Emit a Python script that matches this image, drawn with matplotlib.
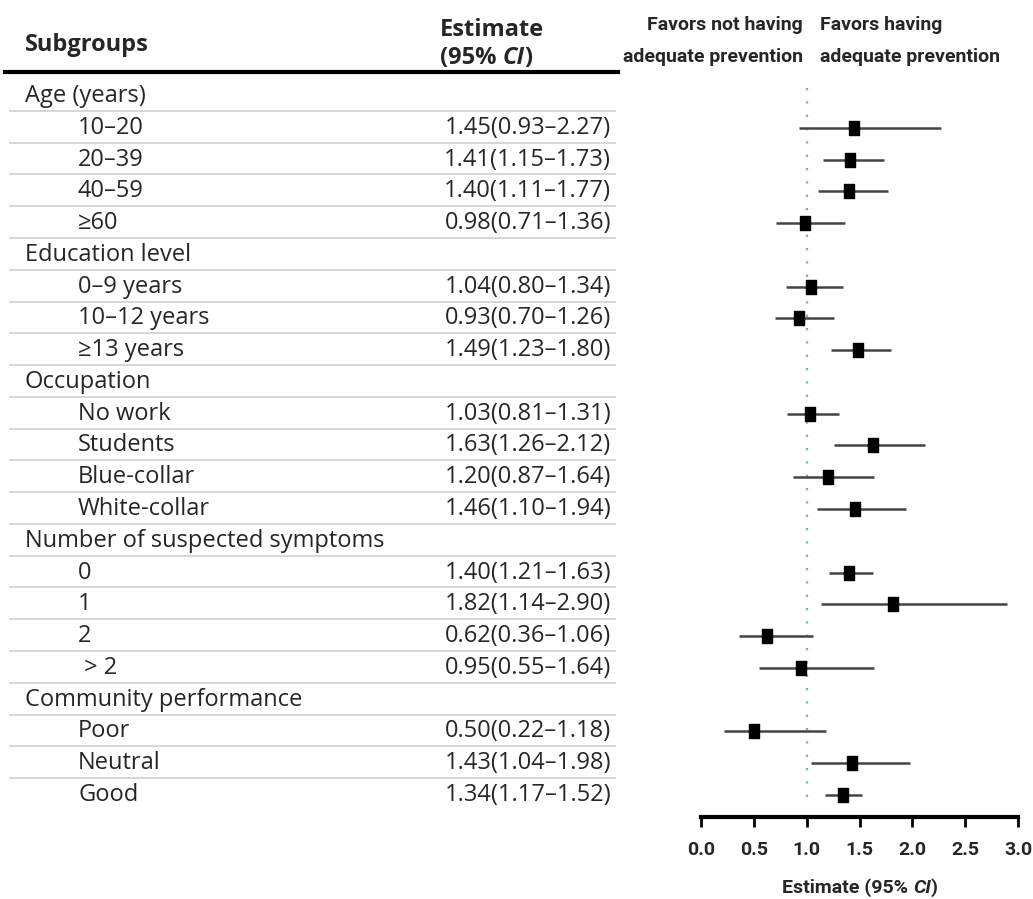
import matplotlib
matplotlib.use("Agg")
import matplotlib.pyplot as plt
from matplotlib.path import Path

# ---------------- data ----------------
group_names = ["Age (years)", "Education level", "Occupation",
               "Number of suspected symptoms", "Community performance"]
subgroup_labels = [
    ["10\u201320", "20\u201339", "40\u201359", "\u226560"],
    ["0\u20139 years", "10\u201312 years", "\u226513 years"],
    ["No work", "Students", "Blue-collar", "White-collar"],
    ["0", "1", "2", " > 2"],
    ["Poor", "Neutral", "Good"],
]
estimates = [1.45, 1.41, 1.40, 0.98,
             1.04, 0.93, 1.49,
             1.03, 1.63, 1.20, 1.46,
             1.40, 1.82, 0.62, 0.95,
             0.50, 1.43, 1.34]
ci_low = [0.93, 1.15, 1.11, 0.71,
          0.80, 0.70, 1.23,
          0.81, 1.26, 0.87, 1.10,
          1.21, 1.14, 0.36, 0.55,
          0.22, 1.04, 1.17]
ci_high = [2.27, 1.73, 1.77, 1.36,
           1.34, 1.26, 1.80,
           1.31, 2.12, 1.64, 1.94,
           1.63, 2.90, 1.06, 1.64,
           1.18, 1.98, 1.52]
x_ticks = [0.0, 0.5, 1.0, 1.5, 2.0, 2.5, 3.0]

# ---------------- layout ----------------
W, H = 1033, 899
fig = plt.figure(figsize=(W / 100, H / 100), dpi=100)

row0_px = 96.0
row_h = 31.77
axis_px = 817.0
top_px = row0_px - 0.5 * row_h
y_bottom = (axis_px - row0_px) / row_h
y_top = -0.5

def px2row(p):
    return (p - row0_px) / row_h

ax_bottom = 1 - axis_px / H
ax_height = (axis_px - top_px) / H

ax_t = fig.add_axes([0, ax_bottom, 1, ax_height])
ax_t.set_xlim(0, W)
ax_t.set_ylim(y_bottom, y_top)
ax_t.axis("off")

ax = fig.add_axes([701 / W, ax_bottom, (1018 - 701) / W, ax_height])
ax.set_xlim(0, 3)
ax.set_ylim(y_bottom, y_top)

txt_font = "Open Sans"
cond_font = ["Roboto", "DejaVu Sans"]
fs = 17
tcol = "#262626"

# build rows
rows = []  # (label, is_header, data_index)
k = 0
for g, labs in zip(group_names, subgroup_labels):
    rows.append((g, True, None))
    for lab in labs:
        rows.append((lab, False, k))
        k += 1

n_rows = len(rows)
for i, (lab, is_head, di) in enumerate(rows):
    x = 25 if is_head else 78
    ax_t.text(x, i, lab, ha="left", va="center", fontsize=fs,
              family=txt_font, color=tcol)
    if di is not None:
        s = f"{estimates[di]:.2f}({ci_low[di]:.2f}\u2013{ci_high[di]:.2f})"
        ax_t.text(611, i, s, ha="right", va="center", fontsize=fs,
                  family=txt_font, color=tcol)
        ax.plot([ci_low[di], ci_high[di]], [i, i], color="#444444", lw=1.8,
                solid_capstyle="butt", zorder=2)
    if i < n_rows - 1:
        ax_t.plot([10, 615], [i + 0.47, i + 0.47], color="#cfcfcf", lw=1.2)

# markers (tall rectangle)
rect = Path([(-0.72, -1), (0.72, -1), (0.72, 1), (-0.72, 1), (-0.72, -1)],
            [Path.MOVETO, Path.LINETO, Path.LINETO, Path.LINETO, Path.CLOSEPOLY])
data_rows = [i for i, r in enumerate(rows) if r[2] is not None]
ax.plot(estimates, data_rows, linestyle="none", marker=rect, markersize=10.5,
        color="black", zorder=3)

# reference line
ax.plot([1, 1], [px2row(88), px2row(805)], color="#6fa8dc",
        linestyle=(0, (1, 5)), lw=1.6, zorder=1)

# header
ax_t.plot([5, 618], [px2row(72), px2row(72)], color="black", lw=3,
          clip_on=False)
ax_t.text(25, px2row(45), "Subgroups", ha="left", va="center", fontsize=fs,
          fontweight="bold", family=txt_font, color=tcol)
ax_t.text(440, px2row(30), "Estimate", ha="left", va="center", fontsize=fs,
          fontweight="bold", family=txt_font, color=tcol)
t1 = ax_t.text(440, px2row(58), "(95% ", ha="left", va="center", fontsize=fs,
               fontweight="bold", family=txt_font, color=tcol)
t2 = ax_t.annotate("CI", xy=(1, 0), xycoords=t1, ha="left", va="bottom",
                   fontsize=fs, fontweight="bold", fontstyle="italic",
                   family=txt_font, color=tcol)
ax_t.annotate(")", xy=(1, 0), xycoords=t2, ha="left", va="bottom",
              fontsize=fs, fontweight="bold", family=txt_font, color=tcol)

hfs = 14
ax_t.text(803, px2row(25), "Favors not having", ha="right", va="center",
          fontsize=hfs, fontweight="bold", family=cond_font, color=tcol)
ax_t.text(803, px2row(57), "adequate prevention", ha="right", va="center",
          fontsize=hfs, fontweight="bold", family=cond_font, color=tcol)
ax_t.text(820, px2row(25), "Favors having", ha="left", va="center",
          fontsize=hfs, fontweight="bold", family=cond_font, color=tcol)
ax_t.text(820, px2row(57), "adequate prevention", ha="left", va="center",
          fontsize=hfs, fontweight="bold", family=cond_font, color=tcol)

# axis styling
for s in ["top", "right", "left"]:
    ax.spines[s].set_visible(False)
ax.spines["bottom"].set_linewidth(3)
ax.set_yticks([])
ax.set_xticks(x_ticks)
ax.set_xticklabels([f"{v:.1f}" for v in x_ticks], fontsize=14,
                   fontweight="bold", family=cond_font, color=tcol)
ax.tick_params(axis="x", direction="out", length=7, width=2, pad=10)
ax.patch.set_visible(False)

xfs = 14
xl1 = fig.text(800 / W, 1 - 888 / H, "Estimate (95% ", ha="left",
               va="center", fontsize=xfs, fontweight="bold", family=cond_font,
               color=tcol)
a2 = fig.add_artist(matplotlib.text.Annotation(
    "CI", xy=(1, 0), xycoords=xl1, ha="left", va="bottom", fontsize=xfs,
    fontweight="bold", fontstyle="italic", family=cond_font, color=tcol))
a3 = fig.add_artist(matplotlib.text.Annotation(
    ")", xy=(1, 0), xycoords=a2, ha="left", va="bottom", fontsize=xfs,
    fontweight="bold", family=cond_font, color=tcol))

# center the composite x-label at x = 860 px
fig.canvas.draw()
r = fig.canvas.get_renderer()
x0 = xl1.get_window_extent(r).x0
x1 = a3.get_window_extent(r).x1
shift = 860 - (x0 + x1) / 2
xl1.set_x((800 + shift) / W)

fig.savefig("out.png", dpi=100)
